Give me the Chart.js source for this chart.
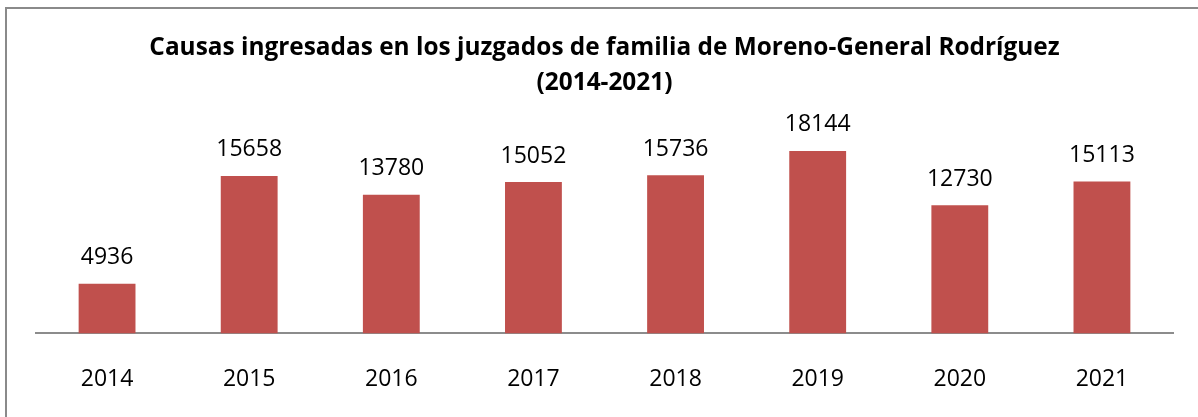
<!DOCTYPE html>
<html>
<head>
<meta charset="utf-8">
<script src="https://cdn.jsdelivr.net/npm/chart.js@4/dist/chart.umd.min.js"></script>
<style>
  body { margin: 0; background: #fff; overflow: hidden; }
  #marco {
    position: absolute; left: 5px; top: 7px;
    width: 1300px; height: 500px;
    border: 2px solid #8a8a8a;
  }
</style>
</head>
<body>
<div id="marco">
  <canvas id="causas" width="1191" height="416"></canvas>
</div>
<script>
const anios = ['2014', '2015', '2016', '2017', '2018', '2019', '2020', '2021'];
const causas = [4936, 15658, 13780, 15052, 15736, 18144, 12730, 15113];
const eje_max = 20000;

const fuente = '"Open Sans", "Liberation Sans", sans-serif';

// etiquetas con el valor arriba de cada barra
const etiquetas_valor = {
  id: 'etiquetas_valor',
  afterDatasetsDraw(chart) {
    const ctx = chart.ctx;
    const meta = chart.getDatasetMeta(0);
    ctx.save();
    ctx.font = '23px ' + fuente;
    ctx.fillStyle = '#000';
    ctx.textAlign = 'center';
    ctx.textBaseline = 'middle';
    meta.data.forEach((barra, i) => {
      ctx.fillText(chart.data.datasets[0].data[i], barra.x, barra.y - 26);
    });
    ctx.restore();
  }
};

const ctx = document.getElementById('causas').getContext('2d');
new Chart(ctx, {
  type: 'bar',
  data: {
    labels: anios,
    datasets: [{
      label: 'Causas ingresadas',
      data: causas,
      backgroundColor: '#C0504D',
      borderWidth: 0,
      categoryPercentage: 1,
      barPercentage: 0.4
    }]
  },
  options: {
    responsive: false,
    animation: false,
    layout: {
      padding: { left: 29, right: 25, top: 21, bottom: 0 }
    },
    plugins: {
      legend: { display: false },
      tooltip: { enabled: false },
      title: {
        display: true,
        text: ['Causas ingresadas en los juzgados de familia de Moreno-General Rodríguez', '(2014-2021)'],
        color: '#000',
        font: { family: fuente, size: 24.4, weight: 'bold', lineHeight: 1.46 },
        padding: { top: 0, bottom: 31 }
      }
    },
    scales: {
      x: {
        grid: { display: false, drawTicks: false },
        border: { display: true, color: '#8c8c8c', width: 2 },
        ticks: { color: '#000', font: { family: fuente, size: 23 }, padding: 32 }
      },
      y: {
        display: false,
        min: 0,
        max: eje_max
      }
    }
  },
  plugins: [etiquetas_valor]
});
</script>
</body>
</html>
